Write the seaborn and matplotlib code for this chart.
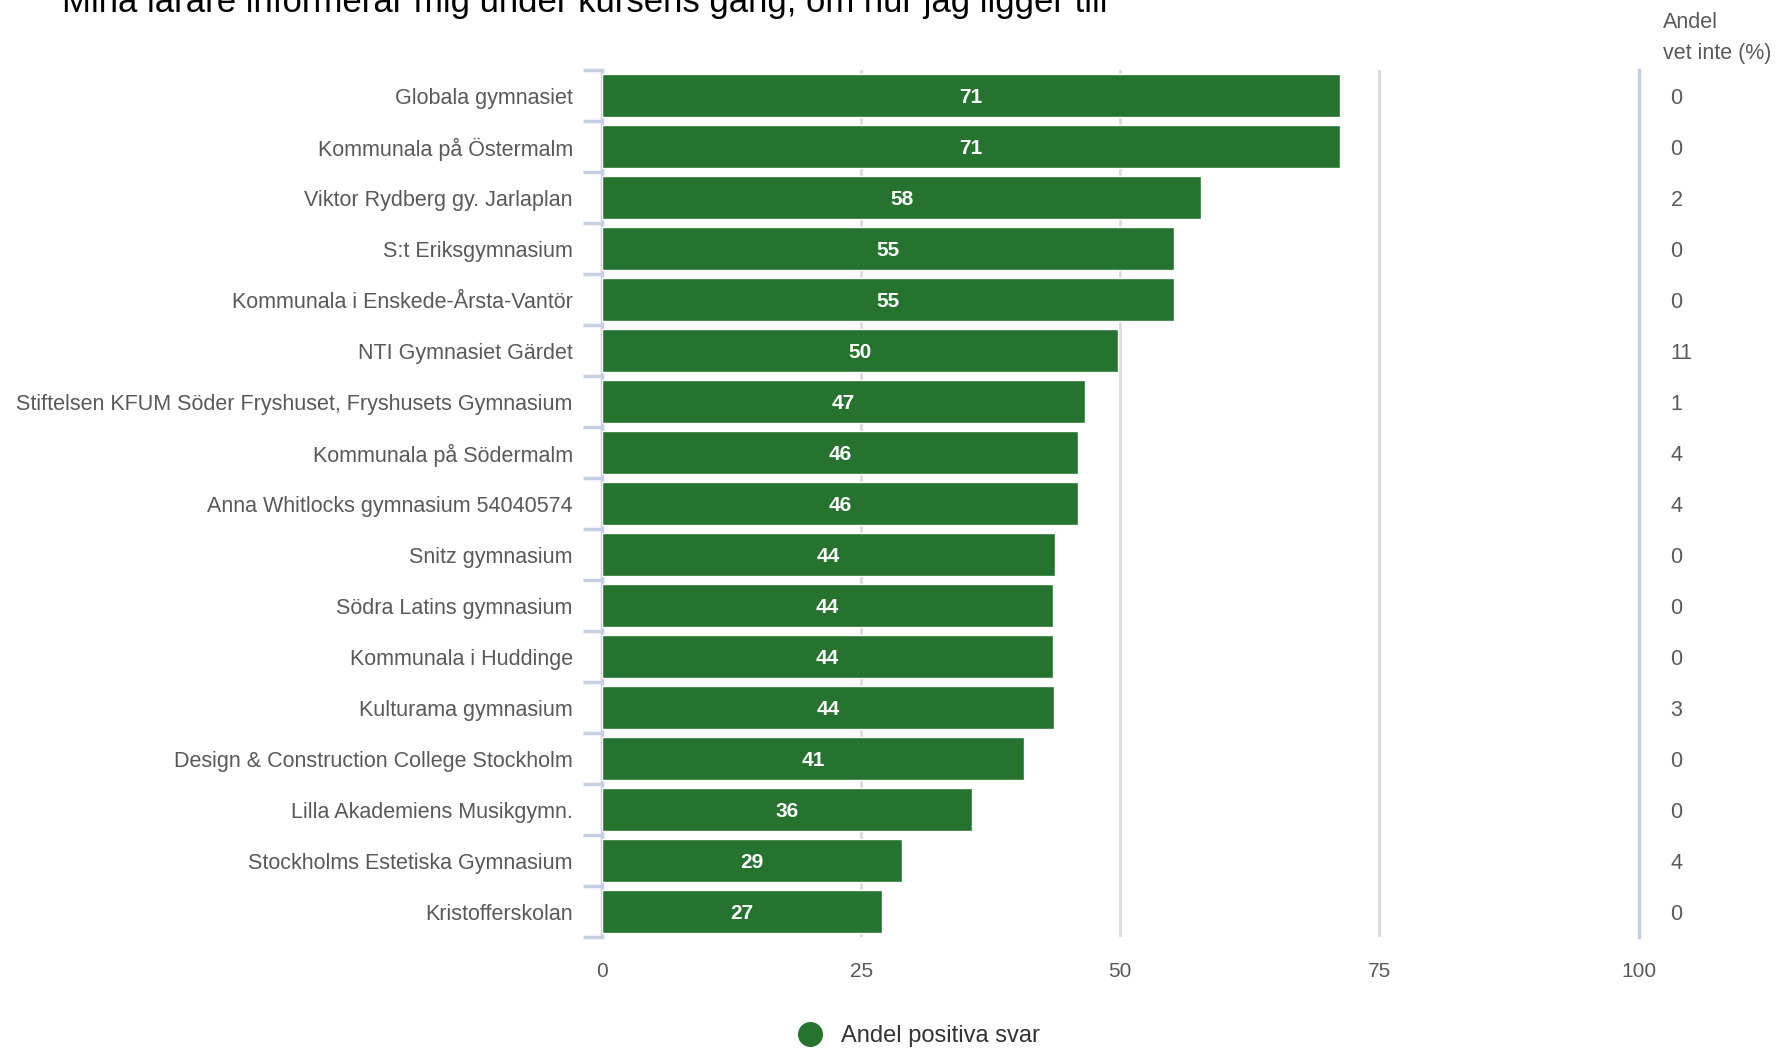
import matplotlib
matplotlib.use("Agg")
import matplotlib.pyplot as plt
import seaborn as sns
import pandas as pd
from matplotlib.lines import Line2D

# data
skolor = [
    "Globala gymnasiet",
    "Kommunala på Östermalm",
    "Viktor Rydberg gy. Jarlaplan",
    "S:t Eriksgymnasium",
    "Kommunala i Enskede-Årsta-Vantör",
    "NTI Gymnasiet Gärdet",
    "Stiftelsen KFUM Söder Fryshuset, Fryshusets Gymnasium",
    "Kommunala på Södermalm",
    "Anna Whitlocks gymnasium 54040574",
    "Snitz gymnasium",
    "Södra Latins gymnasium",
    "Kommunala i Huddinge",
    "Kulturama gymnasium",
    "Design & Construction College Stockholm",
    "Lilla Akademiens Musikgymn.",
    "Stockholms Estetiska Gymnasium",
    "Kristofferskolan",
]
andel_positiva = [71.2, 71.2, 57.8, 55.2, 55.2, 49.8, 46.6, 45.9, 45.9,
                  43.7, 43.5, 43.5, 43.6, 40.7, 35.7, 28.9, 27.0]
andel_vet_inte = [0, 0, 2, 0, 0, 11, 1, 4, 4, 0, 0, 0, 3, 0, 0, 4, 0]
x_ticks = [0, 25, 50, 75, 100]

titel = "Mina lärare informerar mig under kursens gång, om hur jag ligger till"
green = "#267330"
grey_txt = "#595959"
blue_line = "#c6d0e4"

sns.set_style("white")
plt.rcParams["font.family"] = ["Liberation Sans", "DejaVu Sans"]

df = pd.DataFrame({"Skola": skolor, "Andel": andel_positiva})

fig = plt.figure(figsize=(17.87, 10.5), dpi=100)
ax = fig.add_axes([0.3369, 0.1076, 0.5800, 0.8257])

sns.barplot(data=df, y="Skola", x="Andel", orient="h", color=green,
            width=0.86, saturation=1, ax=ax, zorder=3)
lbls = ax.bar_label(ax.containers[0], fmt="%.0f", label_type="center",
                    color="white", fontweight="bold", fontsize=15)
for t in lbls:
    t.set_va("center_baseline")

ax.set_xlim(0, 100)
ax.set_ylim(len(skolor) - 0.5, -0.5)
ax.set_xticks(x_ticks)
ax.set_xlabel("")
ax.set_ylabel("")

# grid
ax.xaxis.grid(True, color="#dcdcdc", linewidth=2, zorder=0)
ax.set_axisbelow(True)

for s in ["top", "bottom"]:
    ax.spines[s].set_visible(False)
ax.spines["left"].set_color(blue_line)
ax.spines["left"].set_linewidth(2.5)
ax.spines["right"].set_color(blue_line)
ax.spines["right"].set_linewidth(2.5)

ax.tick_params(axis="x", length=0, pad=18, labelsize=15, labelcolor=grey_txt)
ax.tick_params(axis="y", which="major", length=0, pad=21, labelsize=15.5,
               labelcolor=grey_txt)
ax.set_yticks([i - 0.5 for i in range(len(skolor) + 1)], minor=True)
ax.tick_params(axis="y", which="minor", length=14, width=2.5, color=blue_line)

# right column: andel vet inte
ax2 = ax.twinx()
ax2.set_ylim(ax.get_ylim())
ax2.set_yticks(range(len(skolor)))
ax2.set_yticklabels([str(v) for v in andel_vet_inte])
ax2.tick_params(axis="y", length=0, pad=23, labelsize=15.5, labelcolor=grey_txt)
for s in ["top", "bottom", "left", "right"]:
    ax2.spines[s].set_visible(False)

fig.text(1663 / 1787, 1 - 23 / 1050, "Andel", fontsize=15.5, color=grey_txt,
         ha="left", va="center")
fig.text(1663 / 1787, 1 - 53 / 1050, "vet inte (%)", fontsize=15.5,
         color=grey_txt, ha="left", va="center")

fig.text(62 / 1787, 1 - 12 / 1050, titel, fontsize=25, color="black",
         ha="left", va="baseline")

handle = Line2D([], [], marker="o", linestyle="", markersize=17,
                markerfacecolor=green, markeredgecolor=green)
fig.legend([handle], ["Andel positiva svar"], loc="center",
           bbox_to_anchor=(0.511, 0.013), frameon=False, fontsize=17,
           handletextpad=0.3, labelcolor="#333333")

fig.savefig("out.png", dpi=100)
